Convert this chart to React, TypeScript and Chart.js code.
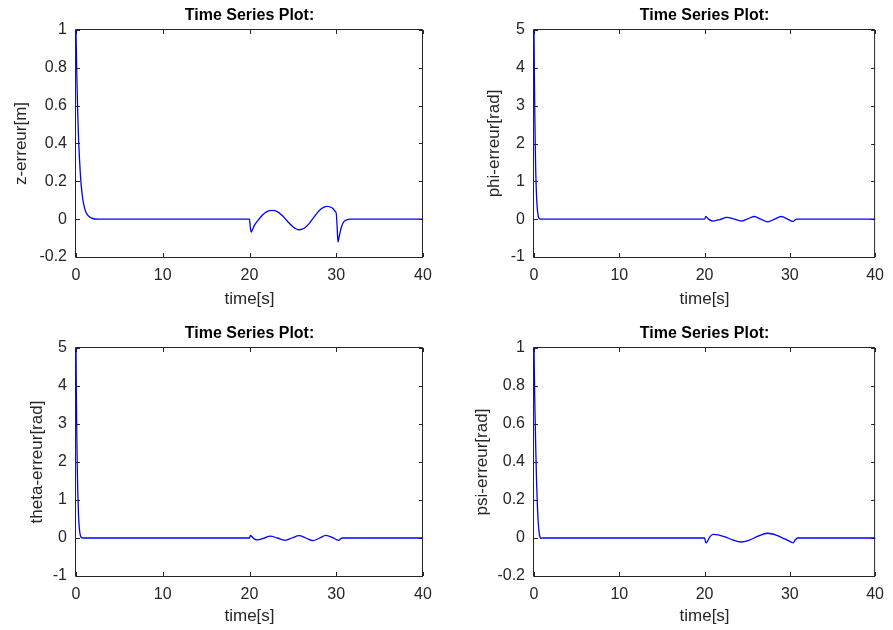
import React, { useEffect, useRef } from 'react';
import { Chart, registerables } from 'chart.js';

Chart.register(...registerables);

const FONT = "'Liberation Sans', Arial, Helvetica, sans-serif";
const TICK_SIZE = 16;
const LABEL_SIZE = 17;
const TITLE_SIZE = 16;

// shared x ticks (seconds)
const timeTicks = [0, 10, 20, 30, 40];

// z error [m]
const zTime = [0, 0.1, 0.2, 0.3, 0.4, 0.5, 0.6, 0.8, 1.0, 1.2, 1.5, 1.8, 2.2, 3, 20, 20.1, 20.2, 20.35, 20.6, 21.0, 21.5, 22.0, 22.6, 23.2, 23.8, 24.4, 25.0, 25.7, 26.3, 26.9, 27.5, 28.2, 28.9, 29.5, 29.9, 30.0, 30.1, 30.2, 30.35, 30.6, 30.9, 31.3, 31.6, 40];
const zErr = [1, 0.75, 0.56, 0.42, 0.32, 0.24, 0.18, 0.10, 0.057, 0.032, 0.014, 0.006, 0.001, 0, 0, -0.045, -0.068, -0.055, -0.03, -0.005, 0.022, 0.040, 0.047, 0.040, 0.018, -0.012, -0.040, -0.056, -0.048, -0.022, 0.015, 0.052, 0.068, 0.060, 0.040, 0.030, -0.04, -0.121, -0.09, -0.04, -0.012, -0.002, 0, 0];
const zTicks = [-0.2, 0, 0.2, 0.4, 0.6, 0.8, 1];

// phi error [rad]
const phiTime = [0, 0.05, 0.1, 0.15, 0.2, 0.3, 0.4, 0.5, 0.6, 0.8, 20, 20.15, 20.3, 20.6, 21.0, 21.8, 22.6, 23.5, 24.3, 25.0, 25.8, 26.6, 27.4, 28.2, 29.0, 29.7, 30.2, 30.4, 30.6, 30.8, 40];
const phiErr = [5, 3.7, 2.7, 1.9, 1.3, 0.6, 0.25, 0.08, 0.02, 0, 0, 0.07, 0.04, -0.02, -0.05, -0.01, 0.05, 0.0, -0.05, 0.0, 0.07, 0.0, -0.07, 0.0, 0.07, 0.01, -0.05, -0.06, -0.02, 0, 0];
const phiTicks = [-1, 0, 1, 2, 3, 4, 5];

// theta error [rad]
const thetaTime = [0, 0.05, 0.1, 0.15, 0.2, 0.3, 0.4, 0.5, 0.6, 0.8, 20, 20.1, 20.3, 20.6, 20.9, 21.6, 22.4, 23.2, 24.1, 24.9, 25.7, 26.5, 27.3, 28.1, 28.8, 29.6, 30.1, 30.3, 30.5, 30.7, 40];
const thetaErr = [5, 3.6, 2.6, 1.8, 1.25, 0.55, 0.22, 0.07, 0.02, 0, 0, 0.07, 0.03, -0.03, -0.05, -0.01, 0.05, 0.0, -0.06, 0.0, 0.06, 0.0, -0.07, 0.0, 0.07, 0.01, -0.05, -0.06, -0.02, 0, 0];
const thetaTicks = [-1, 0, 1, 2, 3, 4, 5];

// psi error [rad]
const psiTime = [0, 0.1, 0.2, 0.3, 0.4, 0.5, 0.6, 0.7, 0.8, 1.0, 20, 20.15, 20.3, 20.6, 21.0, 21.6, 22.4, 23.3, 24.3, 25.2, 26.2, 27.4, 28.4, 29.4, 30.1, 30.4, 30.6, 30.9, 40];
const psiErr = [1, 0.7, 0.48, 0.3, 0.17, 0.08, 0.03, 0.005, -0.002, 0, 0, -0.025, -0.02, 0.005, 0.019, 0.017, 0.006, -0.01, -0.021, -0.012, 0.008, 0.025, 0.015, -0.005, -0.02, -0.026, -0.012, 0, 0];
const psiTicks = [-0.2, 0, 0.2, 0.4, 0.6, 0.8, 1];

const titleText = 'Time Series Plot:';
const xLabel = 'time[s]';

type Spec = {
  left: number; top: number; w: number; h: number;
  L: number; R: number; T: number; B: number;
  time: number[]; values: number[]; ticks: number[];
  yLabel: string; yLabelX: number; xLabelY: number; titleY: number;
};

const specs: Spec[] = [
  { left: 0, top: 0, w: 446, h: 315, L: 76, R: 423, T: 30, B: 257, time: zTime, values: zErr, ticks: zTicks, yLabel: 'z-erreur[m]', yLabelX: 21, xLabelY: 299, titleY: 20 },
  { left: 446, top: 0, w: 447, h: 315, L: 88, R: 435, T: 30, B: 257, time: phiTime, values: phiErr, ticks: phiTicks, yLabel: 'phi-erreur[rad]', yLabelX: 48, xLabelY: 299, titleY: 20 },
  { left: 0, top: 315, w: 446, h: 315, L: 76, R: 423, T: 33, B: 261, time: thetaTime, values: thetaErr, ticks: thetaTicks, yLabel: 'theta-erreur[rad]', yLabelX: 37, xLabelY: 301, titleY: 23 },
  { left: 446, top: 315, w: 447, h: 315, L: 88, R: 435, T: 33, B: 261, time: psiTime, values: psiErr, ticks: psiTicks, yLabel: 'psi-erreur[rad]', yLabelX: 36, xLabelY: 301, titleY: 23 },
];

const framePlugin = {
  id: 'matlabFrame',
  beforeDatasetsDraw(chart: any) {
    const { ctx, chartArea } = chart;
    const { left, right, top, bottom } = chartArea;
    const xs = chart.scales.x;
    const ys = chart.scales.y;
    const tl = 4;
    ctx.save();
    ctx.strokeStyle = '#262626';
    ctx.lineWidth = 1;
    ctx.beginPath();
    // frame sits just outside the plotting area
    ctx.rect(left - 0.5, top - 0.5, right - left, bottom - top + 1);
    xs.ticks.forEach((t: any) => {
      const px = Math.round(xs.getPixelForValue(t.value)) + 0.5;
      ctx.moveTo(px, bottom);
      ctx.lineTo(px, bottom - tl);
      ctx.moveTo(px, top);
      ctx.lineTo(px, top + tl);
    });
    ys.ticks.forEach((t: any) => {
      const py = Math.round(ys.getPixelForValue(t.value)) + 0.5;
      ctx.moveTo(left, py);
      ctx.lineTo(left + tl, py);
      ctx.moveTo(right, py);
      ctx.lineTo(right - tl, py);
    });
    ctx.stroke();
    ctx.restore();
  },
  afterDraw(chart: any, _args: any, opts: any) {
    const { ctx, chartArea } = chart;
    ctx.save();
    ctx.font = `bold ${TITLE_SIZE}px ${FONT}`;
    ctx.fillStyle = '#000000';
    ctx.textAlign = 'center';
    ctx.textBaseline = 'alphabetic';
    ctx.fillText(opts.text, (chartArea.left + chartArea.right) / 2, opts.y);
    ctx.restore();
  },
};

function Panel({ spec }: { spec: Spec }) {
  const ref = useRef<HTMLCanvasElement>(null);
  useEffect(() => {
    const canvas = ref.current;
    if (!canvas) return;
    const lh = LABEL_SIZE * 1.2;
    const pts = spec.time.map((t, i) => ({ x: t, y: spec.values[i] }));
    const chart = new Chart(canvas, {
      type: 'line',
      data: {
        datasets: [
          {
            data: pts,
            borderColor: '#0000ff',
            borderWidth: 1.3,
            pointRadius: 0,
            cubicInterpolationMode: 'monotone',
            fill: false,
            clip: 1,
          },
        ],
      },
      plugins: [framePlugin],
      options: {
        animation: false,
        responsive: false,
        devicePixelRatio: 1,
        events: [],
        layout: { padding: { left: 0, top: spec.T, right: spec.w - spec.R, bottom: 0 } },
        plugins: {
          legend: { display: false },
          tooltip: { enabled: false },
          matlabFrame: { text: titleText, y: spec.titleY },
        } as any,
        scales: {
          x: {
            type: 'linear',
            min: timeTicks[0],
            max: timeTicks[timeTicks.length - 1],
            afterBuildTicks: (s: any) => { s.ticks = timeTicks.map((v) => ({ value: v })); },
            afterFit: (s: any) => { s.height = spec.h - spec.B; },
            grid: { display: false, drawTicks: false },
            border: { display: false },
            ticks: { color: '#262626', font: { family: FONT, size: TICK_SIZE }, padding: 9, maxRotation: 0, autoSkip: false },
            title: {
              display: true, text: xLabel, color: '#262626',
              font: { family: FONT, size: LABEL_SIZE },
              padding: { top: 0, bottom: spec.h - spec.xLabelY - lh / 2 },
            },
          },
          y: {
            type: 'linear',
            min: spec.ticks[0],
            max: spec.ticks[spec.ticks.length - 1],
            afterBuildTicks: (s: any) => { s.ticks = spec.ticks.map((v) => ({ value: v })); },
            afterFit: (s: any) => { s.width = spec.L; },
            grid: { display: false, drawTicks: false },
            border: { display: false },
            ticks: {
              color: '#262626', font: { family: FONT, size: TICK_SIZE }, padding: 9, autoSkip: false,
              callback: (v: any) => String(Math.round(Number(v) * 10) / 10),
            },
            title: {
              display: true, text: spec.yLabel, color: '#262626',
              font: { family: FONT, size: LABEL_SIZE },
              padding: { top: spec.yLabelX - lh / 2, bottom: 0 },
            },
          },
        },
      } as any,
    });
    return () => chart.destroy();
  }, []);
  return (
    <canvas
      ref={ref}
      width={spec.w}
      height={spec.h}
      style={{ position: 'absolute', left: spec.left, top: spec.top, width: spec.w + 'px', height: spec.h + 'px' }}
    />
  );
}

export default function App() {
  return (
    <div style={{ position: 'fixed', left: 0, top: 0, width: 893, height: 630, background: '#ffffff' }}>
      {specs.map((s, i) => (
        <Panel key={i} spec={s} />
      ))}
    </div>
  );
}
